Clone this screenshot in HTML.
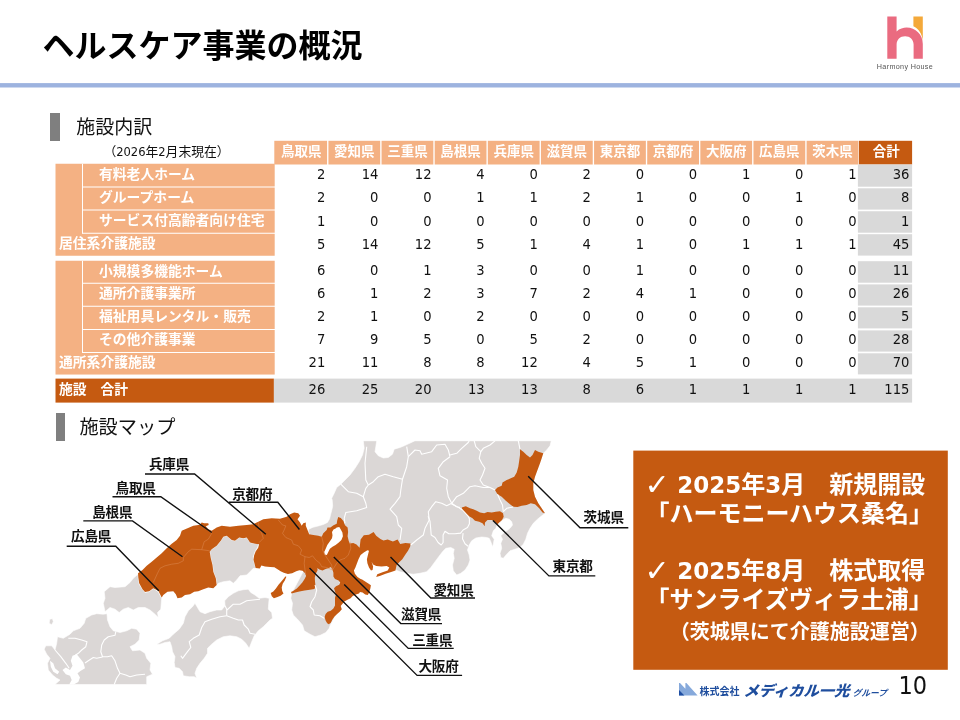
<!DOCTYPE html>
<html lang="ja"><head><meta charset="utf-8"><title>ヘルスケア事業の概況</title>
<style>
html,body{margin:0;padding:0;background:#fff;}
#s{position:relative;width:960px;height:720px;overflow:hidden;background:#fff;font-family:"Liberation Sans", "Noto Sans CJK JP", sans-serif;color:#000;}
#s div{position:absolute;white-space:nowrap;box-sizing:border-box;}
.h{color:#fff;font-weight:bold;font-size:13.5px;text-align:center;line-height:22.6px;height:23.7px;top:140.8px;}
.l{color:#fff;font-weight:bold;font-size:13.8px;}
.n{font-family:"DejaVu Sans Condensed", "DejaVu Sans", "Liberation Sans", "Noto Sans CJK JP", sans-serif;font-size:14.6px;text-align:right;color:#111;height:20px;line-height:20px;}
.bx{color:#fff;font-weight:bold;font-size:24px;letter-spacing:0;line-height:28.8px;height:28.8px;}
.bs{font-size:20px;letter-spacing:0;}
.bd{font-family:"DejaVu Sans","Liberation Sans",sans-serif;font-size:23px;letter-spacing:0;}
.ck{font-family:"DejaVu Sans",sans-serif;font-weight:normal;font-size:30px;line-height:36px;color:#fff;}
.dt{font-family:"DejaVu Sans Condensed","Noto Sans CJK JP",sans-serif;font-size:12.8px;line-height:18px;color:#111;}
.pg{font-family:"DejaVu Sans Condensed","DejaVu Sans",sans-serif;font-size:25px;line-height:30px;color:#111;}
</style></head><body><div id="s">
<div style="left:42.6px;top:22.5px;font-size:32px;font-weight:bold;line-height:46px;letter-spacing:0px;">ヘルスケア事業の概況</div>
<svg style="position:absolute;left:0;top:80px" width="960" height="10" viewBox="0 80 960 10"><rect x="0" y="83.1" width="960" height="4.4" fill="#9DB3DF"/></svg>
<svg style="position:absolute;left:870px;top:10px" width="80" height="70" viewBox="870 10 80 70">
<path d="M887.3 16.6 H896.6 V31.6 C899.5 28.6 903.5 27.6 906.5 27.6 C915.5 27.6 922.8 34.5 922.8 44 V58.8 H913.6 V44.5 C913.6 39.5 910 36.2 905.1 36.2 C900.2 36.2 896.6 39.5 896.6 44.5 V58.8 H887.3 Z" fill="#EA6B80"/>
<path d="M913.4 16.6 H922.8 V40.5 C922 33.5 918.5 28.8 913.4 26.3 Z" fill="#F4A93A"/>
<text x="876.8" y="69.4" font-size="7.2" fill="#555" font-family="Liberation Sans, sans-serif" textLength="56" lengthAdjust="spacing">Harmony House</text>
</svg>
<div style="left:50.4px;top:112.5px;width:10px;height:28px;background:#7F7F7F;"></div>
<div style="left:76.2px;top:113.5px;font-size:19px;line-height:27px;color:#111;">施設内訳</div>
<div style="left:55.8px;top:413.4px;width:9.7px;height:27.4px;background:#7F7F7F;"></div>
<div style="left:79.4px;top:413.6px;font-size:19.2px;line-height:27px;color:#111;">施設マップ</div>
<div class="dt" style="left:103.4px;top:142.6px;">（2026年2月末現在）</div>
<svg style="position:absolute;left:0;top:0" width="960" height="420" viewBox="0 0 960 420"><rect x="274.30" y="140.80" width="52.78" height="23.70" fill="#F4B183"/><rect x="328.43" y="140.80" width="51.78" height="23.70" fill="#F4B183"/><rect x="381.56" y="140.80" width="51.78" height="23.70" fill="#F4B183"/><rect x="434.69" y="140.80" width="51.78" height="23.70" fill="#F4B183"/><rect x="487.82" y="140.80" width="51.78" height="23.70" fill="#F4B183"/><rect x="540.95" y="140.80" width="51.78" height="23.70" fill="#F4B183"/><rect x="594.08" y="140.80" width="51.78" height="23.70" fill="#F4B183"/><rect x="647.21" y="140.80" width="51.78" height="23.70" fill="#F4B183"/><rect x="700.34" y="140.80" width="51.78" height="23.70" fill="#F4B183"/><rect x="753.47" y="140.80" width="51.78" height="23.70" fill="#F4B183"/><rect x="806.60" y="140.80" width="51.78" height="23.70" fill="#F4B183"/><rect x="858.93" y="140.80" width="53.17" height="23.70" fill="#C55A11"/><rect x="55.50" y="163.75" width="219.20" height="92.00" fill="#F4B183"/><rect x="55.50" y="260.75" width="219.20" height="113.80" fill="#F4B183"/><rect x="55.50" y="378.60" width="218.40" height="24.00" fill="#C55A11"/><rect x="273.90" y="378.60" width="638.20" height="24.00" fill="#D9D9D9"/><rect x="82.50" y="186.50" width="192.50" height="1.00" fill="#fff"/><rect x="82.50" y="209.50" width="192.50" height="1.00" fill="#fff"/><rect x="82.50" y="232.75" width="192.50" height="1.00" fill="#fff"/><rect x="82.00" y="163.75" width="1.00" height="70.00" fill="#fff"/><rect x="82.50" y="282.75" width="192.50" height="1.00" fill="#fff"/><rect x="82.50" y="305.75" width="192.50" height="1.00" fill="#fff"/><rect x="82.50" y="329.00" width="192.50" height="1.00" fill="#fff"/><rect x="82.50" y="352.00" width="192.50" height="1.00" fill="#fff"/><rect x="82.00" y="260.75" width="1.00" height="92.25" fill="#fff"/><rect x="857.90" y="164.50" width="54.20" height="22.20" fill="#D9D9D9"/><rect x="857.90" y="188.30" width="54.20" height="21.30" fill="#D9D9D9"/><rect x="857.90" y="211.25" width="54.20" height="21.45" fill="#D9D9D9"/><rect x="857.90" y="234.20" width="54.20" height="21.40" fill="#D9D9D9"/><rect x="857.90" y="261.20" width="54.20" height="21.50" fill="#D9D9D9"/><rect x="857.90" y="284.40" width="54.20" height="21.20" fill="#D9D9D9"/><rect x="857.90" y="307.30" width="54.20" height="21.10" fill="#D9D9D9"/><rect x="857.90" y="330.40" width="54.20" height="21.20" fill="#D9D9D9"/><rect x="857.90" y="353.30" width="54.20" height="21.10" fill="#D9D9D9"/></svg>
<div class="h" style="left:275.10px;width:52.13px;">鳥取県</div>
<div class="h" style="left:328.23px;width:52.13px;">愛知県</div>
<div class="h" style="left:381.36px;width:52.13px;">三重県</div>
<div class="h" style="left:434.49px;width:52.13px;">島根県</div>
<div class="h" style="left:487.62px;width:52.13px;">兵庫県</div>
<div class="h" style="left:540.75px;width:52.13px;">滋賀県</div>
<div class="h" style="left:593.88px;width:52.13px;">東京都</div>
<div class="h" style="left:647.01px;width:52.13px;">京都府</div>
<div class="h" style="left:700.14px;width:52.13px;">大阪府</div>
<div class="h" style="left:753.27px;width:52.13px;">広島県</div>
<div class="h" style="left:806.40px;width:52.13px;">茨木県</div>
<div class="h" style="left:859.53px;width:53.37px;">合計</div>
<div class="l" style="left:99.0px;top:163.75px;height:23.25px;line-height:22.75px;">有料老人ホーム</div>
<div class="n" style="left:274.30px;top:164.00px;width:53.13px;padding-right:2.2px;">2</div>
<div class="n" style="left:327.43px;top:164.00px;width:53.13px;padding-right:2.2px;">14</div>
<div class="n" style="left:380.56px;top:164.00px;width:53.13px;padding-right:2.2px;">12</div>
<div class="n" style="left:433.69px;top:164.00px;width:53.13px;padding-right:2.2px;">4</div>
<div class="n" style="left:486.82px;top:164.00px;width:53.13px;padding-right:2.2px;">0</div>
<div class="n" style="left:539.95px;top:164.00px;width:53.13px;padding-right:2.2px;">2</div>
<div class="n" style="left:593.08px;top:164.00px;width:53.13px;padding-right:2.2px;">0</div>
<div class="n" style="left:646.21px;top:164.00px;width:53.13px;padding-right:2.2px;">0</div>
<div class="n" style="left:699.34px;top:164.00px;width:53.13px;padding-right:2.2px;">1</div>
<div class="n" style="left:752.47px;top:164.00px;width:53.13px;padding-right:2.2px;">0</div>
<div class="n" style="left:805.60px;top:164.00px;width:53.13px;padding-right:2.2px;">1</div>
<div class="n" style="left:858.73px;top:164.00px;width:53.27px;padding-right:2.6px;">36</div>
<div class="l" style="left:99.0px;top:187.00px;height:23.00px;line-height:22.50px;">グループホーム</div>
<div class="n" style="left:274.30px;top:187.00px;width:53.13px;padding-right:2.2px;">2</div>
<div class="n" style="left:327.43px;top:187.00px;width:53.13px;padding-right:2.2px;">0</div>
<div class="n" style="left:380.56px;top:187.00px;width:53.13px;padding-right:2.2px;">0</div>
<div class="n" style="left:433.69px;top:187.00px;width:53.13px;padding-right:2.2px;">1</div>
<div class="n" style="left:486.82px;top:187.00px;width:53.13px;padding-right:2.2px;">1</div>
<div class="n" style="left:539.95px;top:187.00px;width:53.13px;padding-right:2.2px;">2</div>
<div class="n" style="left:593.08px;top:187.00px;width:53.13px;padding-right:2.2px;">1</div>
<div class="n" style="left:646.21px;top:187.00px;width:53.13px;padding-right:2.2px;">0</div>
<div class="n" style="left:699.34px;top:187.00px;width:53.13px;padding-right:2.2px;">0</div>
<div class="n" style="left:752.47px;top:187.00px;width:53.13px;padding-right:2.2px;">1</div>
<div class="n" style="left:805.60px;top:187.00px;width:53.13px;padding-right:2.2px;">0</div>
<div class="n" style="left:858.73px;top:187.00px;width:53.27px;padding-right:2.6px;">8</div>
<div class="l" style="left:99.0px;top:210.00px;height:23.25px;line-height:22.75px;">サービス付高齢者向け住宅</div>
<div class="n" style="left:274.30px;top:211.00px;width:53.13px;padding-right:2.2px;">1</div>
<div class="n" style="left:327.43px;top:211.00px;width:53.13px;padding-right:2.2px;">0</div>
<div class="n" style="left:380.56px;top:211.00px;width:53.13px;padding-right:2.2px;">0</div>
<div class="n" style="left:433.69px;top:211.00px;width:53.13px;padding-right:2.2px;">0</div>
<div class="n" style="left:486.82px;top:211.00px;width:53.13px;padding-right:2.2px;">0</div>
<div class="n" style="left:539.95px;top:211.00px;width:53.13px;padding-right:2.2px;">0</div>
<div class="n" style="left:593.08px;top:211.00px;width:53.13px;padding-right:2.2px;">0</div>
<div class="n" style="left:646.21px;top:211.00px;width:53.13px;padding-right:2.2px;">0</div>
<div class="n" style="left:699.34px;top:211.00px;width:53.13px;padding-right:2.2px;">0</div>
<div class="n" style="left:752.47px;top:211.00px;width:53.13px;padding-right:2.2px;">0</div>
<div class="n" style="left:805.60px;top:211.00px;width:53.13px;padding-right:2.2px;">0</div>
<div class="n" style="left:858.73px;top:211.00px;width:53.27px;padding-right:2.6px;">1</div>
<div class="l" style="left:59.0px;top:233.25px;height:22.50px;line-height:22.00px;">居住系介護施設</div>
<div class="n" style="left:274.30px;top:234.00px;width:53.13px;padding-right:2.2px;">5</div>
<div class="n" style="left:327.43px;top:234.00px;width:53.13px;padding-right:2.2px;">14</div>
<div class="n" style="left:380.56px;top:234.00px;width:53.13px;padding-right:2.2px;">12</div>
<div class="n" style="left:433.69px;top:234.00px;width:53.13px;padding-right:2.2px;">5</div>
<div class="n" style="left:486.82px;top:234.00px;width:53.13px;padding-right:2.2px;">1</div>
<div class="n" style="left:539.95px;top:234.00px;width:53.13px;padding-right:2.2px;">4</div>
<div class="n" style="left:593.08px;top:234.00px;width:53.13px;padding-right:2.2px;">1</div>
<div class="n" style="left:646.21px;top:234.00px;width:53.13px;padding-right:2.2px;">0</div>
<div class="n" style="left:699.34px;top:234.00px;width:53.13px;padding-right:2.2px;">1</div>
<div class="n" style="left:752.47px;top:234.00px;width:53.13px;padding-right:2.2px;">1</div>
<div class="n" style="left:805.60px;top:234.00px;width:53.13px;padding-right:2.2px;">1</div>
<div class="n" style="left:858.73px;top:234.00px;width:53.27px;padding-right:2.6px;">45</div>
<div class="l" style="left:99.0px;top:260.75px;height:22.50px;line-height:22.00px;">小規模多機能ホーム</div>
<div class="n" style="left:274.30px;top:260.00px;width:53.13px;padding-right:2.2px;">6</div>
<div class="n" style="left:327.43px;top:260.00px;width:53.13px;padding-right:2.2px;">0</div>
<div class="n" style="left:380.56px;top:260.00px;width:53.13px;padding-right:2.2px;">1</div>
<div class="n" style="left:433.69px;top:260.00px;width:53.13px;padding-right:2.2px;">3</div>
<div class="n" style="left:486.82px;top:260.00px;width:53.13px;padding-right:2.2px;">0</div>
<div class="n" style="left:539.95px;top:260.00px;width:53.13px;padding-right:2.2px;">0</div>
<div class="n" style="left:593.08px;top:260.00px;width:53.13px;padding-right:2.2px;">1</div>
<div class="n" style="left:646.21px;top:260.00px;width:53.13px;padding-right:2.2px;">0</div>
<div class="n" style="left:699.34px;top:260.00px;width:53.13px;padding-right:2.2px;">0</div>
<div class="n" style="left:752.47px;top:260.00px;width:53.13px;padding-right:2.2px;">0</div>
<div class="n" style="left:805.60px;top:260.00px;width:53.13px;padding-right:2.2px;">0</div>
<div class="n" style="left:858.73px;top:260.00px;width:53.27px;padding-right:2.6px;">11</div>
<div class="l" style="left:99.0px;top:283.25px;height:23.00px;line-height:22.50px;">通所介護事業所</div>
<div class="n" style="left:274.30px;top:283.00px;width:53.13px;padding-right:2.2px;">6</div>
<div class="n" style="left:327.43px;top:283.00px;width:53.13px;padding-right:2.2px;">1</div>
<div class="n" style="left:380.56px;top:283.00px;width:53.13px;padding-right:2.2px;">2</div>
<div class="n" style="left:433.69px;top:283.00px;width:53.13px;padding-right:2.2px;">3</div>
<div class="n" style="left:486.82px;top:283.00px;width:53.13px;padding-right:2.2px;">7</div>
<div class="n" style="left:539.95px;top:283.00px;width:53.13px;padding-right:2.2px;">2</div>
<div class="n" style="left:593.08px;top:283.00px;width:53.13px;padding-right:2.2px;">4</div>
<div class="n" style="left:646.21px;top:283.00px;width:53.13px;padding-right:2.2px;">1</div>
<div class="n" style="left:699.34px;top:283.00px;width:53.13px;padding-right:2.2px;">0</div>
<div class="n" style="left:752.47px;top:283.00px;width:53.13px;padding-right:2.2px;">0</div>
<div class="n" style="left:805.60px;top:283.00px;width:53.13px;padding-right:2.2px;">0</div>
<div class="n" style="left:858.73px;top:283.00px;width:53.27px;padding-right:2.6px;">26</div>
<div class="l" style="left:99.0px;top:306.25px;height:23.25px;line-height:22.75px;">福祉用具レンタル・販売</div>
<div class="n" style="left:274.30px;top:306.00px;width:53.13px;padding-right:2.2px;">2</div>
<div class="n" style="left:327.43px;top:306.00px;width:53.13px;padding-right:2.2px;">1</div>
<div class="n" style="left:380.56px;top:306.00px;width:53.13px;padding-right:2.2px;">0</div>
<div class="n" style="left:433.69px;top:306.00px;width:53.13px;padding-right:2.2px;">2</div>
<div class="n" style="left:486.82px;top:306.00px;width:53.13px;padding-right:2.2px;">0</div>
<div class="n" style="left:539.95px;top:306.00px;width:53.13px;padding-right:2.2px;">0</div>
<div class="n" style="left:593.08px;top:306.00px;width:53.13px;padding-right:2.2px;">0</div>
<div class="n" style="left:646.21px;top:306.00px;width:53.13px;padding-right:2.2px;">0</div>
<div class="n" style="left:699.34px;top:306.00px;width:53.13px;padding-right:2.2px;">0</div>
<div class="n" style="left:752.47px;top:306.00px;width:53.13px;padding-right:2.2px;">0</div>
<div class="n" style="left:805.60px;top:306.00px;width:53.13px;padding-right:2.2px;">0</div>
<div class="n" style="left:858.73px;top:306.00px;width:53.27px;padding-right:2.6px;">5</div>
<div class="l" style="left:99.0px;top:328.90px;height:23.00px;line-height:22.50px;">その他介護事業</div>
<div class="n" style="left:274.30px;top:329.00px;width:53.13px;padding-right:2.2px;">7</div>
<div class="n" style="left:327.43px;top:329.00px;width:53.13px;padding-right:2.2px;">9</div>
<div class="n" style="left:380.56px;top:329.00px;width:53.13px;padding-right:2.2px;">5</div>
<div class="n" style="left:433.69px;top:329.00px;width:53.13px;padding-right:2.2px;">0</div>
<div class="n" style="left:486.82px;top:329.00px;width:53.13px;padding-right:2.2px;">5</div>
<div class="n" style="left:539.95px;top:329.00px;width:53.13px;padding-right:2.2px;">2</div>
<div class="n" style="left:593.08px;top:329.00px;width:53.13px;padding-right:2.2px;">0</div>
<div class="n" style="left:646.21px;top:329.00px;width:53.13px;padding-right:2.2px;">0</div>
<div class="n" style="left:699.34px;top:329.00px;width:53.13px;padding-right:2.2px;">0</div>
<div class="n" style="left:752.47px;top:329.00px;width:53.13px;padding-right:2.2px;">0</div>
<div class="n" style="left:805.60px;top:329.00px;width:53.13px;padding-right:2.2px;">0</div>
<div class="n" style="left:858.73px;top:329.00px;width:53.27px;padding-right:2.6px;">28</div>
<div class="l" style="left:59.0px;top:351.90px;height:22.00px;line-height:21.50px;">通所系介護施設</div>
<div class="n" style="left:274.30px;top:352.00px;width:53.13px;padding-right:2.2px;">21</div>
<div class="n" style="left:327.43px;top:352.00px;width:53.13px;padding-right:2.2px;">11</div>
<div class="n" style="left:380.56px;top:352.00px;width:53.13px;padding-right:2.2px;">8</div>
<div class="n" style="left:433.69px;top:352.00px;width:53.13px;padding-right:2.2px;">8</div>
<div class="n" style="left:486.82px;top:352.00px;width:53.13px;padding-right:2.2px;">12</div>
<div class="n" style="left:539.95px;top:352.00px;width:53.13px;padding-right:2.2px;">4</div>
<div class="n" style="left:593.08px;top:352.00px;width:53.13px;padding-right:2.2px;">5</div>
<div class="n" style="left:646.21px;top:352.00px;width:53.13px;padding-right:2.2px;">1</div>
<div class="n" style="left:699.34px;top:352.00px;width:53.13px;padding-right:2.2px;">0</div>
<div class="n" style="left:752.47px;top:352.00px;width:53.13px;padding-right:2.2px;">0</div>
<div class="n" style="left:805.60px;top:352.00px;width:53.13px;padding-right:2.2px;">0</div>
<div class="n" style="left:858.73px;top:352.00px;width:53.27px;padding-right:2.6px;">70</div>
<div class="l" style="left:59.0px;top:378.00px;height:24.00px;line-height:23.50px;">施設　合計</div>
<div class="n" style="left:274.30px;top:379.00px;width:53.13px;padding-right:2.2px;">26</div>
<div class="n" style="left:327.43px;top:379.00px;width:53.13px;padding-right:2.2px;">25</div>
<div class="n" style="left:380.56px;top:379.00px;width:53.13px;padding-right:2.2px;">20</div>
<div class="n" style="left:433.69px;top:379.00px;width:53.13px;padding-right:2.2px;">13</div>
<div class="n" style="left:486.82px;top:379.00px;width:53.13px;padding-right:2.2px;">13</div>
<div class="n" style="left:539.95px;top:379.00px;width:53.13px;padding-right:2.2px;">8</div>
<div class="n" style="left:593.08px;top:379.00px;width:53.13px;padding-right:2.2px;">6</div>
<div class="n" style="left:646.21px;top:379.00px;width:53.13px;padding-right:2.2px;">1</div>
<div class="n" style="left:699.34px;top:379.00px;width:53.13px;padding-right:2.2px;">1</div>
<div class="n" style="left:752.47px;top:379.00px;width:53.13px;padding-right:2.2px;">1</div>
<div class="n" style="left:805.60px;top:379.00px;width:53.13px;padding-right:2.2px;">1</div>
<div class="n" style="left:858.73px;top:379.00px;width:53.27px;padding-right:2.6px;">115</div>
<svg style="position:absolute;left:0;top:0" width="960" height="720" viewBox="0 0 960 720">
<clipPath id="mc"><rect x="38" y="440.8" width="520" height="244.2"/></clipPath>
<g clip-path="url(#mc)" stroke-linejoin="round">
<path d="M96.7 613.7 L103.3 614.2 L107.0 613.7 L107.5 620.0 L110.0 626.7 L113.3 630.8 L120.0 632.5 L126.7 630.8 L131.7 628.3 L136.7 629.2 L140.0 633.3 L139.2 640.0 L135.0 644.2 L130.0 646.7 L132.5 650.8 L140.0 650.0 L145.0 653.3 L146.7 658.3 L150.8 663.3 L150.0 670.0 L152.5 674.2 L146.7 676.7 L146.7 684.5 L55.0 684.5 L60.0 680.0 L56.7 678.3 L52.5 675.0 L48.3 670.0 L47.5 663.3 L50.0 658.3 L46.7 654.2 L44.2 649.2 L45.8 645.8 L51.7 645.8 L55.0 650.0 L56.7 643.3 L57.5 636.7 L63.3 638.3 L70.0 634.2 L73.3 630.8 L80.0 628.3 L84.2 623.3 L85.8 618.3 L91.7 615.0 Z" fill="#DBD7D6" stroke="#fff" stroke-width="0.6"/>
<path d="M72.5 655.8 L76.7 654.2 L80.0 658.3 L83.3 662.5 L85.0 668.3 L80.8 670.8 L77.5 673.3 L80.0 677.5 L78.3 682.0 L73.7 684.5 L69.2 684.5 L71.7 680.0 L70.0 675.8 L65.8 674.2 L62.5 670.0 L65.8 667.5 L70.0 670.0 L72.5 665.8 L70.8 660.8 Z" fill="#fff"/>
<path d="M50.0 660.8 L53.3 663.3 L55.0 668.3 L59.2 671.7 L57.5 674.2 L53.3 671.7 L50.8 666.7 Z" fill="#fff"/>
<path d="M49.7 619.2 L52.5 618.7 L53.3 621.7 L51.7 624.7 L49.2 623.3 Z" fill="#DBD7D6" stroke="#fff" stroke-width="0.6"/>
<path d="M138.0 574.2 L133.3 578.3 L130.0 582.5 L125.0 586.7 L115.0 587.5 L110.0 586.7 L104.2 591.7 L105.0 598.3 L103.3 603.3 L105.0 611.7 L110.0 607.5 L115.0 609.2 L119.2 612.5 L123.3 609.2 L128.3 607.5 L133.3 610.0 L138.3 607.5 L145.0 607.5 L150.0 610.0 L155.0 614.2 L158.3 617.5 L157.5 612.5 L160.8 609.2 L161.7 598.3 L158.3 591.7 L153.3 588.3 L149.2 591.7 L145.0 592.5 L142.5 589.2 L139.2 584.2 L138.3 578.3 Z" fill="#DBD7D6" stroke="#fff" stroke-width="0.6"/>
<path d="M216.7 585.0 L215.8 578.3 L213.3 571.7 L212.5 565.0 L210.8 558.3 L209.7 551.7 L211.7 549.2 L216.7 545.8 L220.8 540.8 L223.3 536.7 L226.7 535.8 L231.7 540.0 L235.0 540.8 L239.2 537.5 L243.3 538.3 L246.7 537.5 L250.0 542.5 L255.0 543.7 L259.2 542.5 L257.5 547.5 L255.0 551.7 L253.3 556.7 L254.2 562.5 L255.8 568.3 L253.3 568.3 L250.0 571.7 L246.7 575.0 L240.0 575.8 L236.7 580.0 L233.3 583.3 L230.0 580.8 L223.3 581.7 L218.3 583.3 Z" fill="#DBD7D6" stroke="#fff" stroke-width="0.6"/>
<path d="M156.7 644.2 L162.5 640.8 L169.2 638.3 L173.3 634.2 L179.2 629.2 L183.3 623.3 L185.0 616.7 L188.3 610.8 L192.5 606.7 L195.0 603.3 L197.5 607.5 L200.0 611.7 L205.0 613.7 L210.0 611.7 L216.7 610.0 L221.7 610.0 L225.0 605.8 L224.7 600.8 L228.3 596.7 L233.3 593.3 L238.3 590.8 L243.3 589.7 L248.3 589.2 L250.8 592.5 L255.0 595.0 L259.2 598.3 L265.0 597.5 L269.2 598.3 L268.7 603.3 L268.3 609.2 L271.7 612.5 L272.5 618.3 L270.0 620.0 L266.7 623.3 L263.3 626.7 L258.3 630.8 L254.2 635.8 L251.7 641.7 L249.2 648.3 L245.8 643.3 L241.7 639.2 L236.7 636.7 L230.0 635.8 L223.3 636.7 L216.7 640.0 L211.7 644.2 L207.5 648.3 L207.5 653.3 L204.2 658.3 L200.0 663.3 L196.7 668.3 L195.0 673.3 L196.7 678.3 L194.2 676.7 L189.2 676.7 L183.3 675.8 L182.5 671.7 L179.2 668.3 L175.0 667.5 L174.2 662.5 L175.0 656.7 L172.5 651.7 L171.7 646.7 L170.0 641.7 L165.0 642.5 L160.0 644.2 Z" fill="#DBD7D6" stroke="#fff" stroke-width="0.6"/>
<path d="M340.0 565.0 L306.7 565.0 L291.7 593.3 L290.8 598.3 L292.5 603.3 L291.7 610.0 L293.3 615.0 L297.5 619.2 L302.5 625.0 L304.2 630.8 L310.0 634.2 L315.0 636.7 L320.8 635.0 L325.8 632.5 L329.2 628.3 L330.0 625.8 L340.0 606.7 Z" fill="#DBD7D6" stroke="#fff" stroke-width="0.6"/>
<path d="M363.3 440.8 L376.7 440.8 L375.8 446.7 L375.0 451.7 L378.3 455.8 L383.3 458.0 L388.3 457.5 L392.5 454.2 L394.2 449.2 L400.0 447.5 L404.2 445.8 L415.0 440.8 L551.3 440.8 L550.0 445.8 L546.7 450.0 L543.3 453.3 L541.7 458.3 L540.0 463.3 L537.5 470.0 L535.0 476.7 L533.3 483.3 L533.3 490.0 L535.0 496.7 L538.3 503.3 L541.7 508.3 L545.0 513.3 L545.0 513.3 L541.7 515.8 L537.5 519.2 L533.3 523.3 L530.0 528.3 L527.5 533.3 L525.8 539.2 L523.3 544.2 L520.0 547.5 L515.0 549.2 L510.0 550.8 L506.7 554.2 L503.3 558.3 L500.8 557.5 L500.0 553.3 L501.7 548.3 L500.8 543.3 L502.5 539.2 L500.8 535.8 L503.3 533.3 L506.7 530.8 L510.0 528.3 L512.5 525.0 L511.7 521.7 L509.2 519.2 L505.8 518.3 L502.5 520.0 L500.0 522.5 L497.5 523.3 L495.8 528.3 L493.3 530.8 L491.7 535.8 L494.2 539.2 L493.3 544.2 L492.5 546.7 L490.8 541.7 L489.2 538.3 L486.7 537.5 L481.7 537.0 L475.8 538.0 L471.7 540.8 L469.2 545.0 L467.5 550.0 L469.2 555.0 L470.0 560.0 L468.3 565.0 L465.0 570.0 L460.8 573.3 L456.7 575.0 L453.3 570.8 L452.5 565.0 L454.2 558.3 L453.3 553.3 L454.2 549.2 L450.8 547.5 L445.8 548.3 L442.5 551.7 L440.0 555.0 L435.0 561.7 L430.8 567.5 L426.7 571.7 L420.0 573.3 L413.3 574.2 L406.7 573.3 L400.0 571.7 L395.8 570.0 L390.0 550.0 L365.0 550.0 L350.0 550.0 L325.0 550.0 L309.2 534.2 L308.2 531.2 L308.8 529.2 L312.9 527.3 L318.1 526.0 L323.3 524.5 L327.5 522.4 L329.6 518.8 L330.6 514.6 L331.7 510.4 L332.7 506.2 L332.2 500.0 L331.7 498.3 L334.2 493.3 L336.7 487.5 L340.8 484.2 L345.0 480.0 L350.0 475.0 L355.0 468.3 L359.2 461.7 L362.5 455.0 L364.2 448.3 Z" fill="#DBD7D6" stroke="#fff" stroke-width="0.6"/>
<path d="M161.7 597.5 L158.3 590.8 L153.3 588.3 L149.2 591.3 L145.0 592.0 L142.5 589.2 L139.2 583.3 L138.3 577.5 L138.0 573.3 L142.5 570.0 L146.7 565.8 L151.7 561.7 L156.7 557.5 L161.7 553.3 L166.7 548.3 L171.7 543.7 L176.7 540.0 L180.0 535.8 L181.7 530.8 L187.5 528.3 L193.3 525.8 L200.0 524.7 L201.7 522.5 L204.2 523.3 L208.3 523.3 L208.7 525.0 L205.8 526.3 L208.3 529.2 L211.7 530.8 L216.7 527.5 L221.7 525.8 L230.0 526.7 L238.3 525.8 L246.7 525.0 L253.3 524.2 L258.3 521.7 L263.3 519.2 L271.7 518.3 L280.0 518.7 L286.7 516.7 L290.0 514.2 L294.2 512.5 L298.3 513.3 L300.0 515.8 L297.5 519.2 L300.0 522.5 L301.7 525.8 L303.3 523.3 L305.8 522.5 L305.8 525.8 L307.5 530.0 L309.2 534.2 L313.3 535.0 L318.3 535.8 L321.7 536.7 L323.3 533.3 L326.7 530.0 L327.5 527.5 L330.4 527.4 L333.5 525.3 L336.7 523.8 L337.2 520.6 L338.2 517.0 L340.8 518.0 L343.4 521.1 L345.0 525.3 L347.6 527.4 L348.1 532.1 L347.6 536.2 L348.6 540.4 L349.7 543.5 L353.3 543.0 L356.5 544.6 L359.6 547.7 L360.1 543.5 L360.6 539.4 L363.8 535.2 L369.0 534.7 L373.6 532.1 L376.2 535.7 L380.4 538.9 L383.5 540.4 L387.7 539.4 L392.9 541.5 L397.6 539.4 L400.2 544.1 L405.4 543.0 L410.6 543.5 L410.1 546.7 L408.0 550.8 L405.4 554.5 L402.3 559.2 L399.2 562.3 L396.6 564.9 L395.5 570.6 L391.9 571.7 L385.6 573.8 L380.4 575.8 L376.2 576.9 L377.3 574.3 L382.5 572.2 L387.7 570.6 L389.3 567.5 L386.7 565.9 L381.5 566.5 L376.2 565.9 L373.1 564.4 L371.6 561.8 L373.1 566.5 L372.6 570.1 L371.0 570.6 L369.0 567.5 L367.4 563.3 L366.9 559.2 L367.9 555.0 L369.0 550.8 L367.4 550.3 L363.8 552.4 L360.6 555.0 L358.5 559.2 L357.0 563.3 L355.4 567.5 L353.9 570.6 L354.9 573.8 L357.5 576.9 L360.6 579.0 L362.1 579.5 L365.2 581.6 L368.3 583.6 L370.9 585.2 L370.4 588.3 L369.4 592.0 L367.8 595.1 L365.2 594.6 L362.6 592.5 L360.0 592.0 L359.0 593.5 L355.8 594.6 L352.7 596.1 L350.6 598.2 L347.5 599.8 L344.4 601.4 L342.3 604.0 L340.7 606.0 L341.8 609.2 L339.7 611.8 L337.1 613.9 L334.5 616.5 L332.4 619.6 L330.8 622.7 L328.8 624.3 L327.2 623.2 L325.6 620.6 L324.6 617.0 L325.6 613.9 L327.7 611.8 L330.8 610.7 L333.4 608.6 L335.0 605.5 L335.0 601.9 L335.0 597.7 L336.0 594.6 L335.0 591.5 L334.0 588.3 L336.0 586.2 L339.2 584.7 L340.2 582.6 L338.6 580.5 L335.0 579.0 L333.4 576.4 L333.4 572.7 L332.4 569.6 L330.8 567.0 L328.8 568.0 L325.6 569.1 L322.5 570.6 L319.4 569.4 L317.3 568.0 L317.6 570.2 L316.0 573.3 L314.8 577.5 L315.0 581.7 L315.5 585.8 L314.5 589.0 L309.8 589.8 L304.6 590.5 L299.4 591.6 L295.2 592.6 L291.6 593.6 L291.0 592.1 L293.1 591.0 L296.8 588.4 L299.9 585.3 L302.5 582.2 L304.6 579.1 L306.1 575.9 L305.1 573.3 L302.5 570.7 L299.4 570.2 L296.2 571.2 L292.1 573.3 L287.9 573.9 L283.8 572.8 L280.6 571.2 L277.5 569.2 L274.4 567.3 L270.2 566.9 L265.0 566.6 L261.4 565.5 L259.8 568.6 L255.6 568.1 L254.6 564.0 L253.5 559.8 L254.1 555.6 L255.6 551.5 L258.2 547.8 L259.1 544.2 L255.0 543.7 L250.0 542.5 L246.7 537.5 L243.3 538.3 L239.2 537.5 L235.0 540.8 L231.7 540.0 L226.7 535.8 L223.3 536.7 L220.8 540.8 L216.7 545.8 L211.7 549.2 L209.7 551.7 L210.8 558.3 L212.5 565.0 L213.3 571.7 L215.8 578.3 L216.7 585.0 L213.3 588.3 L208.3 587.5 L203.3 589.2 L198.3 591.3 L194.2 591.7 L190.0 594.2 L185.0 595.0 L181.7 597.5 L177.5 598.3 L175.8 594.2 L173.3 591.3 L167.5 591.7 L163.3 595.0 Z" fill="#C55A11"/>
<path d="M336.7 527.4 L339.3 526.9 L340.8 529.5 L342.4 532.6 L342.9 536.2 L341.4 539.9 L338.8 542.5 L335.6 545.1 L332.5 546.7 L329.9 548.8 L328.3 551.9 L326.8 555.0 L324.7 554.5 L324.2 551.9 L325.7 548.8 L327.3 545.1 L329.4 542.0 L332.0 538.3 L332.5 535.2 L332.0 532.1 L333.5 529.5 L335.6 528.4 Z" fill="#fff"/>
<path d="M286.4 576.7 L284.8 580.6 L282.7 583.8 L281.7 587.4 L282.2 591.0 L283.5 593.6 L280.6 595.7 L277.5 597.1 L273.9 598.3 L271.8 596.2 L270.7 593.1 L273.3 591.6 L275.9 588.4 L278.5 584.8 L281.1 581.7 L283.8 578.5 L285.3 576.5 Z" fill="#C55A11"/>
<path d="M520.0 449.2 L523.3 451.7 L526.7 455.0 L530.0 457.5 L532.5 455.0 L535.0 450.0 L538.3 451.7 L543.3 453.3 L541.7 458.3 L540.0 463.3 L537.5 470.0 L535.0 476.7 L533.3 483.3 L533.3 490.0 L535.0 496.7 L538.3 503.3 L541.7 508.3 L545.0 513.3 L542.5 512.5 L539.2 508.3 L535.0 504.2 L530.8 503.3 L526.7 505.0 L521.7 505.8 L517.5 507.0 L513.3 506.7 L510.0 504.2 L505.8 500.8 L501.7 496.7 L497.5 494.2 L495.0 490.0 L497.5 487.5 L501.7 485.8 L502.5 482.5 L506.7 480.0 L510.8 478.3 L514.2 476.7 L516.7 472.5 L518.3 466.7 L519.2 460.8 L520.0 455.0 Z" fill="#C55A11"/>
<path d="M461.7 507.5 L465.8 506.3 L470.0 508.3 L473.3 509.2 L476.7 510.8 L480.0 512.5 L484.2 513.3 L487.5 512.0 L491.7 512.5 L495.8 511.7 L500.0 511.3 L503.0 513.3 L503.7 516.7 L502.0 520.0 L499.2 522.5 L497.5 524.2 L495.0 521.7 L491.7 520.0 L487.5 520.0 L485.0 522.5 L484.7 526.3 L482.5 523.3 L479.2 521.7 L475.0 520.8 L472.5 518.3 L468.3 515.8 L465.0 512.5 L462.5 510.0 Z" fill="#C55A11"/>
<path d="M115.8 631.7 L115.0 635.3 L108.3 636.7 L104.2 640.0 L101.7 645.0 L100.8 651.7 L102.5 656.7 L107.5 656.7 L111.7 655.8 L115.0 660.8 L117.5 668.3 L120.0 673.3 L125.8 675.0 L130.0 676.7 L136.7 675.0 L145.0 674.2" fill="none" stroke="#fff" stroke-width="1.1"/>
<path d="M102.5 657.0 L96.7 658.3 L93.3 657.5 L88.3 660.8 L85.0 663.0" fill="none" stroke="#fff" stroke-width="1.1"/>
<path d="M68.3 638.3 L75.0 638.3 L81.7 640.0 L87.0 641.7 L85.8 646.7 L81.7 650.0 L78.3 653.3 L75.3 655.3" fill="none" stroke="#fff" stroke-width="1.1"/>
<path d="M120.0 673.3 L116.7 678.3 L114.2 684.5" fill="none" stroke="#fff" stroke-width="1.1"/>
<path d="M55.0 650.0 L60.8 656.7 L65.8 663.3 L69.2 668.3" fill="none" stroke="#fff" stroke-width="1.1"/>
<path d="M180.8 655.8 L182.5 658.3 L187.5 651.7 L190.8 647.5 L189.2 641.7 L193.3 638.3 L199.2 635.0 L201.7 627.5 L205.0 621.7 L211.7 619.2 L220.0 616.7 L226.7 615.8" fill="none" stroke="#fff" stroke-width="1.1"/>
<path d="M225.0 605.8 L226.7 609.2 L226.7 615.8" fill="none" stroke="#fff" stroke-width="1.1"/>
<path d="M227.0 610.0 L233.3 604.2 L240.0 604.2 L246.7 600.8 L255.0 599.7 L260.0 599.2" fill="none" stroke="#fff" stroke-width="1.1"/>
<path d="M226.7 615.8 L233.3 618.3 L238.3 620.0 L242.5 620.0 L244.2 625.0 L248.3 629.2 L250.0 633.3 L255.0 634.2" fill="none" stroke="#fff" stroke-width="1.1"/>
<path d="M315.0 585.0 L316.7 590.0 L315.0 596.7 L311.7 601.7 L310.0 606.7 L313.3 610.0 L314.2 615.0 L320.0 615.8 L324.2 618.3" fill="none" stroke="#fff" stroke-width="1.1"/>
<path d="M366.7 446.7 L365.0 463.3 L365.8 480.0 L368.3 485.0" fill="none" stroke="#fff" stroke-width="1.1"/>
<path d="M340.8 484.2 L348.3 491.7 L356.7 493.3 L363.3 496.7" fill="none" stroke="#fff" stroke-width="1.1"/>
<path d="M368.3 485.0 L365.8 488.3 L363.3 496.7 L365.8 503.3 L366.7 507.5 L356.7 510.8 L345.8 512.5 L344.2 518.3 L345.0 523.3" fill="none" stroke="#fff" stroke-width="1.1"/>
<path d="M368.3 485.0 L373.3 481.7 L378.3 476.7 L385.0 474.2 L393.3 476.7 L402.5 479.2" fill="none" stroke="#fff" stroke-width="1.1"/>
<path d="M406.7 446.7 L408.3 456.7 L406.7 466.7 L402.5 479.2" fill="none" stroke="#fff" stroke-width="1.1"/>
<path d="M402.5 479.2 L400.8 490.0 L400.0 496.7 L395.0 503.3 L390.0 509.2 L396.7 516.7 L398.3 525.0 L401.7 528.3 L400.0 540.0" fill="none" stroke="#fff" stroke-width="1.1"/>
<path d="M408.3 456.7 L415.0 450.0 L420.0 450.8 L421.7 454.2 L431.7 451.7 L436.7 445.0 L445.0 444.2 L448.3 450.0 L450.0 456.7" fill="none" stroke="#fff" stroke-width="1.1"/>
<path d="M450.0 456.7 L443.3 461.7 L438.3 468.3 L440.0 475.8 L447.5 480.0 L446.7 488.3 L448.3 496.7 L451.7 503.3" fill="none" stroke="#fff" stroke-width="1.1"/>
<path d="M451.7 503.3 L446.7 505.8 L441.7 503.3 L435.8 501.7 L431.7 506.7 L428.3 511.7 L429.2 520.0 L425.0 528.3 L423.3 535.0 L416.7 540.0 L410.8 545.0" fill="none" stroke="#fff" stroke-width="1.1"/>
<path d="M451.7 503.3 L456.7 506.7 L460.0 507.5" fill="none" stroke="#fff" stroke-width="1.1"/>
<path d="M450.0 455.0 L456.7 453.3 L461.7 448.3 L468.3 442.5 L469.2 440.8" fill="none" stroke="#fff" stroke-width="1.1"/>
<path d="M474.2 440.8 L475.8 446.7 L480.8 451.7 L479.2 458.3 L481.7 463.3 L485.0 468.3 L482.5 475.0 L480.0 480.0 L483.3 485.0 L490.0 487.5 L495.0 490.0" fill="none" stroke="#fff" stroke-width="1.1"/>
<path d="M495.0 440.8 L490.0 445.0 L483.3 448.3 L480.8 451.7" fill="none" stroke="#fff" stroke-width="1.1"/>
<path d="M518.3 440.8 L520.0 449.2" fill="none" stroke="#fff" stroke-width="1.1"/>
<path d="M451.7 503.3 L456.7 496.7 L463.3 493.3 L470.0 486.7 L475.0 485.8 L483.3 487.5 L490.0 487.5" fill="none" stroke="#fff" stroke-width="1.1"/>
<path d="M497.5 494.2 L500.0 500.0 L502.5 505.0 L503.3 511.7" fill="none" stroke="#fff" stroke-width="1.1"/>
<path d="M503.3 511.7 L506.7 508.3 L513.3 507.0" fill="none" stroke="#fff" stroke-width="1.1"/>
<path d="M428.1 516.2 L430.0 521.2 L430.6 527.5 L431.2 535.0 L435.0 537.5 L438.1 542.5 L441.2 545.0 L443.1 542.5 L443.1 535.0 L445.0 531.2 L448.8 533.8 L455.0 533.8 L460.6 533.1 L463.1 530.0 L467.5 527.5 L469.4 523.8 L469.4 518.8 L468.1 516.2 L462.5 510.0 L457.5 506.9 L451.2 503.8" fill="none" stroke="#fff" stroke-width="1.1"/>
<path d="M463.1 533.1 L462.5 538.8 L465.0 543.8 L468.1 546.2" fill="none" stroke="#fff" stroke-width="1.1"/>
<path d="M153.3 582.5 L157.5 573.3 L160.0 568.3 L165.0 565.8 L171.7 564.2 L178.3 563.3 L183.3 560.8 L183.3 557.5 L188.3 551.7 L191.7 549.2 L201.7 549.7 L209.7 550.8" fill="none" stroke="#DC8A55" stroke-width="0.5"/>
<path d="M201.7 549.7 L204.2 541.7 L208.3 539.2 L211.7 533.3 L211.3 530.8" fill="none" stroke="#DC8A55" stroke-width="0.5"/>
<path d="M259.2 542.5 L263.3 538.3 L261.7 533.3 L259.2 528.3 L258.3 522.5" fill="none" stroke="#DC8A55" stroke-width="0.5"/>
<path d="M278.3 520.0 L282.5 525.0 L285.8 525.8 L284.2 530.0 L282.5 533.3 L285.8 537.5 L291.7 540.0 L293.3 544.2 L298.3 545.8 L301.7 550.0 L300.0 554.2 L305.0 556.7 L309.2 557.5 L312.5 555.8 L315.8 560.0 L320.0 563.3 L321.7 566.7" fill="none" stroke="#DC8A55" stroke-width="0.5"/>
<path d="M305.0 556.7 L304.2 563.3 L305.0 570.0 L305.8 575.0" fill="none" stroke="#DC8A55" stroke-width="0.5"/>
<path d="M321.7 536.7 L323.3 543.3 L322.5 550.0 L325.0 555.0 L328.3 560.0 L331.7 565.0 L332.5 570.0" fill="none" stroke="#DC8A55" stroke-width="0.5"/>
<path d="M350.0 541.7 L350.8 548.3 L348.3 555.0 L345.0 558.3 L340.0 560.0 L336.7 563.3 L332.5 570.0" fill="none" stroke="#DC8A55" stroke-width="0.5"/>
<path d="M321.7 566.7 L326.7 567.5 L332.5 570.0" fill="none" stroke="#DC8A55" stroke-width="0.5"/>
</g>
<g fill="none" stroke="#111" stroke-width="1.4">
<path d="M145.0 474.0 H194.6 L265.8 534.2"/>
<path d="M112.5 496.8 H160.8 L211.8 532.5"/>
<path d="M83.3 520.9 H132.5 L182.5 556.8"/>
<path d="M66.7 546.2 H115.8 L158.8 590.8"/>
<path d="M228.9 502.2 H277.8 L299.4 529.5"/>
<path d="M628.3 527.8 H580.0 L528.2 476.2"/>
<path d="M595.3 575.9 H548.9 L493.0 520.5"/>
<path d="M475.0 598.0 H430.8 L390.5 557.0"/>
<path d="M442.0 623.6 H400.8 L333.8 557.0"/>
<path d="M453.7 648.4 H408.3 L344.2 584.5"/>
<path d="M462.1 675.4 H417.1 L309.5 568.0"/>
</g>
<g font-family="Liberation Sans, Noto Sans CJK JP, sans-serif" font-weight="bold" font-size="13.6" fill="#111">
<text x="148.9" y="469.0" textLength="40.4" lengthAdjust="spacing">兵庫県</text>
<text x="115.5" y="493.2" textLength="40.4" lengthAdjust="spacing">鳥取県</text>
<text x="92.2" y="517.0" textLength="40.4" lengthAdjust="spacing">島根県</text>
<text x="71.0" y="540.7" textLength="40.4" lengthAdjust="spacing">広島県</text>
<text x="232.2" y="498.8" textLength="40.4" lengthAdjust="spacing">京都府</text>
<text x="583.6" y="521.8" textLength="40.4" lengthAdjust="spacing">茨城県</text>
<text x="552.5" y="570.7" textLength="40.4" lengthAdjust="spacing">東京都</text>
<text x="433.4" y="595.3" textLength="40.4" lengthAdjust="spacing">愛知県</text>
<text x="401.0" y="619.0" textLength="40.4" lengthAdjust="spacing">滋賀県</text>
<text x="412.2" y="644.8" textLength="40.4" lengthAdjust="spacing">三重県</text>
<text x="418.4" y="670.7" textLength="40.4" lengthAdjust="spacing">大阪府</text>
</g>
</svg>
<svg style="position:absolute;left:630px;top:448px" width="322" height="226" viewBox="630 448 322 226"><rect x="633.3" y="450.6" width="314.5" height="219.2" fill="#C55A11"/></svg>
<div class="ck" style="left:644.5px;top:466.6px;">✓</div>
<div class="bx" style="left:677.3px;top:470.9px;"><span class="bd">2025</span>年<span class="bd">3</span>月　新規開設</div>
<div class="bx" style="left:645.6px;top:499.7px;">「ハーモニーハウス桑名」</div>
<div class="ck" style="left:644.5px;top:553px;">✓</div>
<div class="bx" style="left:677.3px;top:557.3px;"><span class="bd">2025</span>年<span class="bd">8</span>月　株式取得</div>
<div class="bx" style="left:645.6px;top:586.1px;">「サンライズヴィラ土浦」</div>
<div class="bx bs" style="left:669.8px;top:617.8px;">（茨城県にて介護施設運営）</div>
<svg style="position:absolute;left:676px;top:678px" width="220" height="24" viewBox="676 678 220 24">
<path d="M679 683.1 H680 L685.4 688.8 V683.1 H686.4 L697.6 695.6 H679 Z" fill="#86A9DB"/>
<path d="M679 690 L684.4 695.6 H679 Z" fill="#1F4FA3"/>
<text x="699.6" y="695.3" font-size="10" font-weight="bold" fill="#1F4E9E" font-family="Liberation Sans, Noto Sans CJK JP, sans-serif" textLength="40" lengthAdjust="spacingAndGlyphs">株式会社</text>
<g transform="translate(743.2 696.4) skewX(-18)"><text x="0" y="0" font-size="14.6" font-weight="900" fill="#1F4E9E" font-family="Liberation Sans, Noto Sans CJK JP, sans-serif" textLength="106" lengthAdjust="spacingAndGlyphs">メディカル一光</text></g>
<g transform="translate(852.6 696.4) skewX(-18)"><text x="0" y="0" font-size="8.6" font-weight="bold" fill="#1F4E9E" font-family="Liberation Sans, Noto Sans CJK JP, sans-serif" textLength="34" lengthAdjust="spacingAndGlyphs">グループ</text></g>
</svg>
<div class="pg" style="left:898.4px;top:670.8px;">10</div>
</div></body></html>
